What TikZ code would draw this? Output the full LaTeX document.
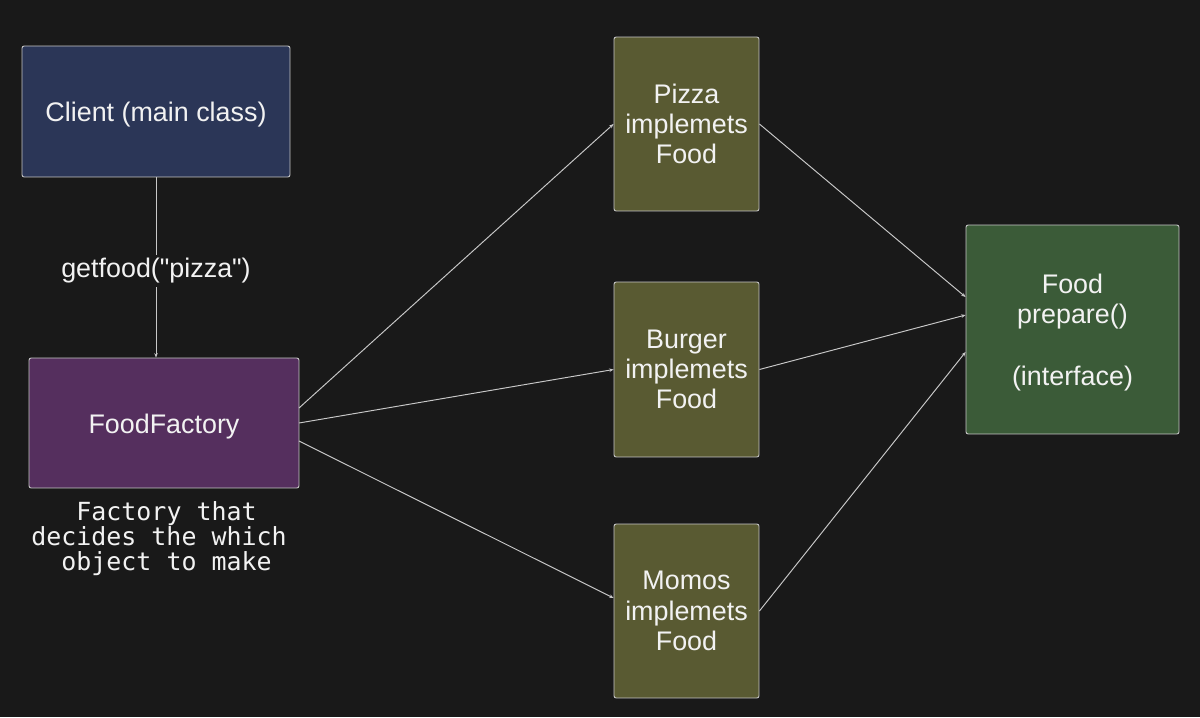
\documentclass[tikz,border=0pt]{standalone}
\usepackage{fontspec}
\setmainfont{Liberation Sans}
\newfontfamily\lblfont{Liberation Sans}
\newfontfamily\monof{DejaVu Sans Mono}
\usetikzlibrary{arrows.meta}
\definecolor{bgc}{HTML}{191919}
\definecolor{clientc}{HTML}{2B3657}
\definecolor{factc}{HTML}{552F5E}
\definecolor{foodc}{HTML}{595A32}
\definecolor{ifc}{HTML}{3B5B38}
\definecolor{edgec}{HTML}{C8C8C8}
\definecolor{txtc}{HTML}{F2F2F2}
\newcommand\lowertext[2]{\raisebox{0pt}[\dimexpr\height+#1\relax][\depth]{#2}}
\tikzset{
  box/.style={draw=edgec, line width=0.5pt, rounded corners=1.2pt, text=txtc, align=center,
    font=\fontsize{15.3}{17.2}\selectfont, inner sep=0pt},
  conn/.style={draw=edgec, line width=0.55pt, -{Stealth[length=2.5pt,width=2pt]}},
}
\begin{document}
\begin{tikzpicture}[x=0.02cm,y=-0.02cm]
\fill[bgc] (0,0) rectangle (1200,717);
\useasboundingbox (0,0) rectangle (1200,717);
\node[box, fill=clientc, minimum width=5.36cm, minimum height=2.62cm] (client) at (156,111.5) {\lowertext{3.4pt}{Client (main class)}};
\node[box, fill=factc, minimum width=5.4cm, minimum height=2.6cm] (factory) at (164,423) {\lowertext{4.4pt}{FoodFactory}};
\node[box, fill=foodc, minimum width=2.9cm, minimum height=3.48cm] (pizza) at (686.5,124) {Pizza\\implemets\\Food};
\node[box, fill=foodc, minimum width=2.9cm, minimum height=3.5cm] (burger) at (686.5,369.5) {Burger\\implemets\\Food};
\node[box, fill=foodc, minimum width=2.9cm, minimum height=3.48cm] (momos) at (686.5,611) {Momos\\implemets\\Food};
\node[box, fill=ifc, minimum width=4.26cm, minimum height=4.18cm] (food) at (1072.5,329.5) {\lowertext{4pt}{\begin{tabular}{@{}c@{}}Food\\prepare()\\[18pt](interface)\end{tabular}}};
\node[text=txtc, align=center, font=\monof\fontsize{14.2}{14.2}\selectfont, inner sep=0pt] (note) at (159,539) {\ Factory that\\decides the which\\\ object to make};

\coordinate (fa) at (299,408);
\coordinate (fb) at (299,423);
\coordinate (fc) at (299,441);
\draw[conn] (client.south) -- node[fill=bgc, text=txtc, font=\lblfont\fontsize{15.3}{17.2}\selectfont, inner sep=2pt, yshift=-0.07cm] (lbl) {getfood("pizza")} (client.south |- factory.north);
\draw[conn] (fa) -- (pizza.west);
\draw[conn] (fb) -- (burger.west);
\draw[conn] (fc) -- (momos.west |- 0,598);
\draw[conn] (pizza.east) -- (food.west |- 0,297);
\draw[conn] (burger.east) -- (food.west |- 0,315);
\draw[conn] (momos.east) -- (food.west |- 0,352);
\end{tikzpicture}
\end{document}
